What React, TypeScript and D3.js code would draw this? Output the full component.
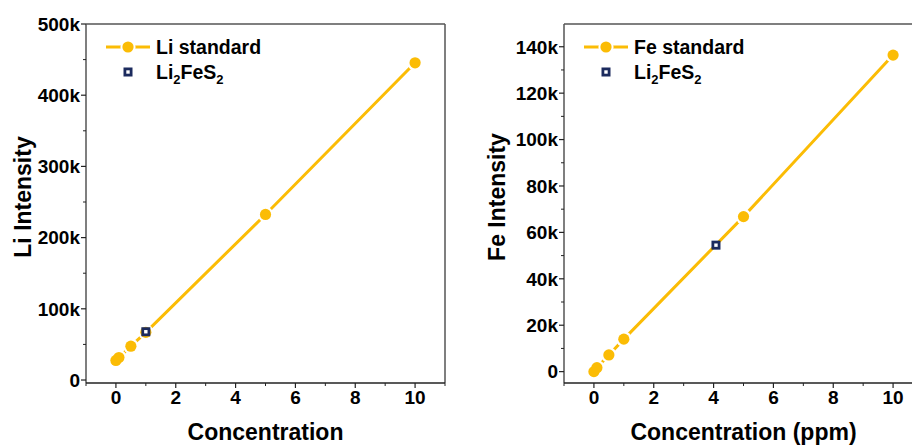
import React from 'react';
import * as d3 from 'd3';

// Li calibration (left panel)
const liStdConc = [0, 0.1, 0.5, 1, 5, 10];
const liStdIntensity = [27500, 31500, 47500, 67000, 232500, 445500];
const liSampleConc = [1.0];
const liSampleIntensity = [67800];
const liYTicks = [0, 100000, 200000, 300000, 400000, 500000];

// Fe calibration (right panel)
const feStdConc = [0, 0.1, 0.5, 1, 5, 10];
const feStdIntensity = [0, 1700, 7200, 14000, 66800, 136400];
const feSampleConc = [4.08];
const feSampleIntensity = [54500];
const feYTicks = [0, 20000, 40000, 60000, 80000, 100000, 120000, 140000];

const xTicks = [0, 2, 4, 6, 8, 10];

const GOLD = '#fbbc05';
const NAVY = '#1c2b5e';
const AXIS = '#555';
const FONT = '"Liberation Sans", Arial, sans-serif';
const R = 5.6;
const SQ = 6.2;

interface PanelProps {
  left: number;
  yDomain: [number, number];
  yTicks: number[];
  yMinorStep: number;
  stdX: number[];
  stdY: number[];
  smpX: number[];
  smpY: number[];
  stdLabel: string;
  xTitle: string;
  yTitle: string;
  yTitleX: number;
}

const Panel: React.FC<PanelProps> = ({
  left, yDomain, yTicks, yMinorStep, stdX, stdY, smpX, smpY, stdLabel, xTitle, yTitle, yTitleX,
}) => {
  const top = 24;
  const bottom = 383;
  const w = 359;
  const x = d3.scaleLinear().domain([-1, 11]).range([left, left + w]);
  const y = d3.scaleLinear().domain(yDomain).range([bottom, top]);

  const pts = stdX.map((c, i) => [x(c), y(stdY[i])] as [number, number]);
  const line = d3.line()(pts) || '';

  const xMinor = d3.range(-1, 12, 2);
  const yMinor = d3.range(yMinorStep, yDomain[1], yMinorStep * 2);

  return (
    <g fontFamily={FONT} fontWeight="bold" fill="#000">
      {/* frame */}
      <line x1={left} x2={left + w} y1={top} y2={top} stroke={AXIS} strokeWidth={1.5} />
      <line x1={left + w} x2={left + w} y1={top} y2={bottom} stroke={AXIS} strokeWidth={1.5} />
      <line x1={left} x2={left} y1={top} y2={bottom} stroke={AXIS} strokeWidth={1.5} />
      <line x1={left} x2={left + w} y1={bottom} y2={bottom} stroke="#222" strokeWidth={1.5} />

      {/* y ticks */}
      {yTicks.map(t => (
        <g key={`y${t}`}>
          <line x1={left - 5} x2={left} y1={y(t)} y2={y(t)} stroke="#222" strokeWidth={1.2} />
          <text x={left - 6} y={y(t)} dy="0.36em" textAnchor="end" fontSize={19}>
            {t === 0 ? '0' : `${t / 1000}k`}
          </text>
        </g>
      ))}
      {yMinor.map(t => (
        <line key={`ym${t}`} x1={left - 3} x2={left} y1={y(t)} y2={y(t)} stroke="#222" strokeWidth={1} />
      ))}

      {/* x ticks */}
      {xTicks.map(t => (
        <g key={`x${t}`}>
          <line x1={x(t)} x2={x(t)} y1={bottom} y2={bottom + 5} stroke="#222" strokeWidth={1.2} />
          <text x={x(t)} y={bottom + 21} textAnchor="middle" fontSize={19}>{t}</text>
        </g>
      ))}
      {xMinor.map(t => (
        <line key={`xm${t}`} x1={x(t)} x2={x(t)} y1={bottom} y2={bottom + 3} stroke="#222" strokeWidth={1} />
      ))}

      {/* standard line, gaps around markers, markers */}
      <path d={line} fill="none" stroke={GOLD} strokeWidth={3} />
      {pts.map(([px, py], i) => (
        <circle key={`g${i}`} cx={px} cy={py} r={R + 2.2} fill="#fff" />
      ))}
      {pts.map(([px, py], i) => (
        <circle key={`m${i}`} cx={px} cy={py} r={R} fill={GOLD} />
      ))}
      {smpX.map((c, i) => (
        <rect key={i} x={x(c) - SQ / 2} y={y(smpY[i]) - SQ / 2} width={SQ} height={SQ}
          fill="#fff" stroke={NAVY} strokeWidth={2.8} />
      ))}

      {/* legend */}
      <line x1={left + 20} x2={left + 64} y1={top + 23} y2={top + 23} stroke={GOLD} strokeWidth={3} />
      <circle cx={left + 42} cy={top + 23} r={R + 2} fill="#fff" />
      <circle cx={left + 42} cy={top + 23} r={R} fill={GOLD} />
      <text x={left + 70} y={top + 30} fontSize={19.5}>{stdLabel}</text>
      <rect x={left + 42 - SQ / 2} y={top + 48 - SQ / 2} width={SQ} height={SQ} fill="#fff" stroke={NAVY} strokeWidth={2.8} />
      <text x={left + 70} y={top + 55} fontSize={19.5}>
        Li<tspan fontSize={13} dy={5}>2</tspan>
        <tspan dy={-5}>FeS</tspan>
        <tspan fontSize={13} dy={5}>2</tspan>
      </text>

      {/* titles */}
      <text x={left + w / 2} y={440} textAnchor="middle" fontSize={23}>{xTitle}</text>
      <text transform={`translate(${yTitleX},${197}) rotate(-90)`} textAnchor="middle" fontSize={23}>{yTitle}</text>
    </g>
  );
};

export default function App() {
  return (
    <div style={{ position: 'fixed', left: 0, top: 0, width: 912, height: 446, background: '#fff' }}>
      <svg width={912} height={446} style={{ display: 'block' }}>
        <rect width={912} height={446} fill="#fff" />
        <Panel
          left={86}
          yDomain={[-4200, 500000]}
          yTicks={liYTicks}
          yMinorStep={50000}
          stdX={liStdConc}
          stdY={liStdIntensity}
          smpX={liSampleConc}
          smpY={liSampleIntensity}
          stdLabel="Li standard"
          xTitle="Concentration"
          yTitle="Li Intensity"
          yTitleX={31}
        />
        <Panel
          left={564}
          yDomain={[-4900, 149800]}
          yTicks={feYTicks}
          yMinorStep={10000}
          stdX={feStdConc}
          stdY={feStdIntensity}
          smpX={feSampleConc}
          smpY={feSampleIntensity}
          stdLabel="Fe standard"
          xTitle="Concentration (ppm)"
          yTitle="Fe Intensity"
          yTitleX={505}
        />
      </svg>
    </div>
  );
}
